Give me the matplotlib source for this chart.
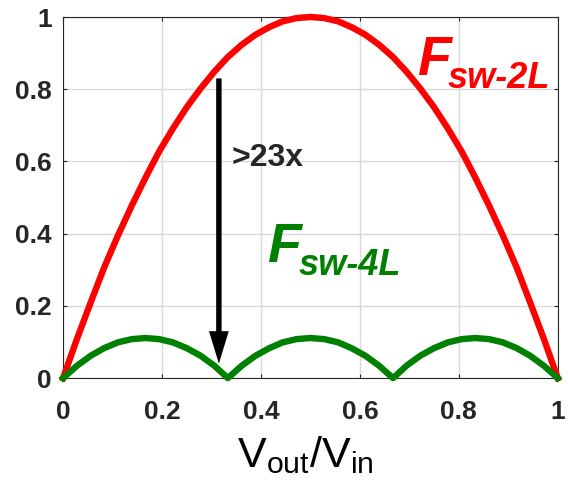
import matplotlib
matplotlib.use('Agg')
import matplotlib.pyplot as plt

plt.rcParams['font.family'] = ['Liberation Sans', 'DejaVu Sans']
plt.rcParams['mathtext.default'] = 'regular'

# duty ratio samples (Vout/Vin)
vout_ratio = [0.0, 0.028, 0.056, 0.083, 0.111, 0.139, 0.167, 0.194, 0.222, 0.25,
              0.278, 0.306, 0.333, 0.361, 0.389, 0.417, 0.444, 0.472, 0.5, 0.528,
              0.556, 0.583, 0.611, 0.639, 0.667, 0.694, 0.722, 0.75, 0.778, 0.806,
              0.833, 0.861, 0.889, 0.917, 0.944, 0.972, 1.0]

# normalised switching-node ripple, 2-level converter
fsw_2l = [0.0, 0.108, 0.210, 0.306, 0.395, 0.478, 0.556, 0.627, 0.691, 0.75,
          0.802, 0.849, 0.889, 0.923, 0.951, 0.972, 0.988, 0.997, 1.0, 0.997,
          0.988, 0.972, 0.951, 0.923, 0.889, 0.849, 0.802, 0.75, 0.691, 0.627,
          0.556, 0.478, 0.395, 0.306, 0.210, 0.108, 0.0]

# normalised switching-node ripple, 4-level converter
fsw_4l = [0.0, 0.034, 0.062, 0.083, 0.099, 0.108, 0.111, 0.108, 0.099, 0.083,
          0.062, 0.034, 0.0, 0.034, 0.062, 0.083, 0.099, 0.108, 0.111, 0.108,
          0.099, 0.083, 0.062, 0.034, 0.0, 0.034, 0.062, 0.083, 0.099, 0.108,
          0.111, 0.108, 0.099, 0.083, 0.062, 0.034, 0.0]

ticks = [0, 0.2, 0.4, 0.6, 0.8, 1]
tick_labels = ['0', '0.2', '0.4', '0.6', '0.8', '1']

dark = '#262626'
red = '#ff0000'
green = '#008000'

fig = plt.figure(figsize=(5.68, 4.86), dpi=100)
ax = fig.add_axes([0.111, 0.222, 0.871, 0.743])

ax.plot(vout_ratio, fsw_2l, color=red, lw=4.6, clip_on=False, zorder=3)
ax.plot(vout_ratio, fsw_4l, color=green, lw=4.6, clip_on=False, zorder=3)

ax.set_xlim(0, 1)
ax.set_ylim(0, 1)
ax.set_xticks(ticks)
ax.set_yticks(ticks)
ax.set_xticklabels(tick_labels)
ax.set_yticklabels(tick_labels)
ax.grid(True, color='#d9d9d9', lw=1)
ax.set_axisbelow(True)
ax.tick_params(direction='in', length=3, width=0.8, top=True, right=True,
               labelsize=19, labelcolor=dark, color=dark)
ax.tick_params(axis='x', pad=16)
ax.tick_params(axis='y', pad=8)
for lab in ax.get_xticklabels() + ax.get_yticklabels():
    lab.set_fontweight('bold')
for sp in ax.spines.values():
    sp.set_color(dark)
    sp.set_linewidth(0.8)

ax.set_xlabel(r'$V_{out}/V_{in}$', fontsize=31, color='k')
ax.xaxis.set_label_coords(0.49, -0.247)
ax.xaxis.label.set_va('baseline')

# reduction arrow (vertical, so width is in x units and head length in y units)
ax.arrow(0.315, 0.83, 0, -0.79, width=0.011, head_width=0.04,
         head_length=0.09, length_includes_head=True, color='k', lw=0,
         zorder=4)
ax.text(0.341, 0.587, '>23x', fontsize=23, fontweight='bold', color=dark,
        ha='left', va='baseline')

# curve labels
ax.text(0.715, 0.839, 'F', fontsize=40, fontweight='bold', style='italic',
        color=red, ha='left', va='baseline')
ax.text(0.778, 0.803, 'sw-2L', fontsize=26, fontweight='bold', style='italic',
        color=red, ha='left', va='baseline')
ax.text(0.412, 0.321, 'F', fontsize=40, fontweight='bold', style='italic',
        color=green, ha='left', va='baseline')
ax.text(0.477, 0.285, 'sw-4L', fontsize=26, fontweight='bold', style='italic',
        color=green, ha='left', va='baseline')

fig.savefig('out.png', dpi=100)
